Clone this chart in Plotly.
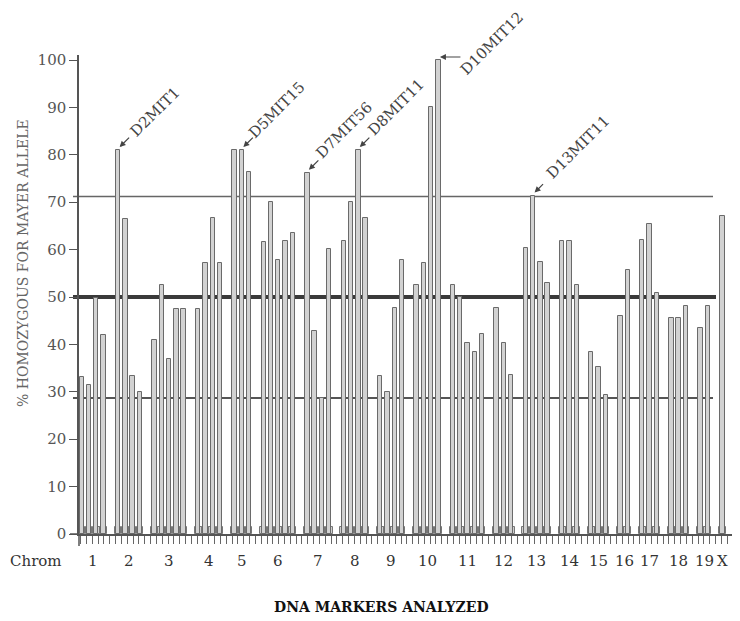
import plotly.graph_objects as go

# ---------------- data ----------------
chrom_names = ["1", "2", "3", "4", "5", "6", "7", "8", "9", "10",
               "11", "12", "13", "14", "15", "16", "17", "18", "19", "X"]
chr1 = [33.2, 31.4, 49.7, 42.0]
chr2 = [81.0, 66.5, 33.3, 30.0]
chr3 = [40.9, 52.5, 36.9, 47.4, 47.4]
chr4 = [47.4, 57.2, 66.7, 57.1]
chr5 = [81.0, 81.0, 76.3]
chr6 = [61.7, 70.1, 57.9, 61.9, 63.4]
chr7 = [76.2, 42.9, 28.6, 60.1]
chr8 = [61.9, 70.1, 81.0, 66.7]
chr9 = [33.4, 30.0, 47.7, 57.9]
chr10 = [52.5, 57.2, 90.0, 100.0]
chr11 = [52.5, 49.9, 40.2, 38.5, 42.2]
chr12 = [47.7, 40.2, 33.5]
chr13 = [60.3, 71.4, 57.3, 53.0]
chr14 = [61.9, 61.9, 52.5]
chr15 = [38.5, 35.3, 29.3]
chr16 = [45.9, 55.7]
chr17 = [62.0, 65.4, 50.9]
chr18 = [45.5, 45.5, 48.0]
chr19 = [43.4, 48.0]
chrX = [67.1]
chrom_values = [chr1, chr2, chr3, chr4, chr5, chr6, chr7, chr8, chr9, chr10,
                chr11, chr12, chr13, chr14, chr15, chr16, chr17, chr18, chr19, chrX]

# named markers: (label, chromosome index, marker index within chromosome)
marker_labels = ["D2MIT1", "D5MIT15", "D7MIT56", "D8MIT11", "D10MIT12", "D13MIT11"]
marker_chrom = [1, 4, 6, 7, 9, 12]
marker_pos = [0, 1, 0, 2, 3, 1]

# threshold lines (% homozygous)
upper_line = 71.2
mid_line = 50.0
lower_line = 28.7

y_ticks = [0, 10, 20, 30, 40, 50, 60, 70, 80, 90, 100]

# ---------------- layout of slots ----------------
xs, ys = [], []
chrom_start = []
chrom_center = []
slot = 0
for vals in chrom_values:
    chrom_start.append(slot)
    for v in vals:
        xs.append(slot)
        ys.append(v)
        slot += 1
    chrom_center.append(chrom_start[-1] + (len(vals) - 1) / 2)
    slot += 1  # gap between chromosomes

SERIF = "DejaVu Serif"
GRAY = "#555555"

fig = go.Figure()
# small feet at the base of each bar
fig.add_trace(go.Bar(x=xs, y=[1.4] * len(xs), width=0.92,
                     marker=dict(color="#cfcfcf", line=dict(color="#777777", width=1)),
                     hoverinfo="skip", showlegend=False))
fig.add_trace(go.Bar(x=xs, y=ys, width=0.6,
                     marker=dict(color="#d2d2d2", line=dict(color="#6a6a6a", width=1)),
                     showlegend=False))

# the page body has an 8px margin: the figure is placed at (8, 8)
OFF = 8
W, H = 740 - OFF, 621 - OFF
PL, PR, PT, PB = 79, 740, 55, 534          # plot area in page pixels
L, T = PL - OFF, PT - OFF
R = 0
B = H - (PB - OFF)
pw = PR - PL
ph = PB - PT

def px_x(px):
    return (px - PL) / pw

def px_y(py):
    return (PB - py) / ph

shapes = []
for val, w, col in [(upper_line, 1.5, "#666666"), (mid_line, 4, "#3a3a3a"), (lower_line, 2, "#555555")]:
    shapes.append(dict(type="line", xref="paper", yref="y", x0=px_x(73), x1=px_x(713 if val != mid_line else 716),
                       y0=val, y1=val, line=dict(color=col, width=w), layer="below"))
# axis extensions
shapes.append(dict(type="line", xref="paper", yref="paper", x0=px_x(70), x1=0, y0=0, y1=0,
                   line=dict(color="#555555", width=1.5)))
shapes.append(dict(type="line", xref="paper", yref="paper", x0=0, x1=0, y0=px_y(546), y1=0,
                   line=dict(color="#555555", width=1.5)))

annotations = []
# chromosome labels
for name, c in zip(chrom_names, chrom_center):
    annotations.append(dict(x=c, y=px_y(561), xref="x", yref="paper", text=name, showarrow=False,
                            font=dict(family=SERIF, size=15, color="#333333"),
                            xanchor="center", yanchor="middle"))
annotations.append(dict(x=px_x(64), y=px_y(561), xref="paper", yref="paper", text="Chrom",
                        showarrow=False, font=dict(family=SERIF, size=15, color="#333333"),
                        xanchor="right", yanchor="middle"))
annotations.append(dict(x=px_x(381), y=px_y(607), xref="paper", yref="paper",
                        text="<b>DNA MARKERS ANALYZED</b>", showarrow=False,
                        font=dict(family=SERIF, size=14, color="#111111"),
                        xanchor="center", yanchor="middle"))
annotations.append(dict(x=px_x(23), y=px_y(263), xref="paper", yref="paper",
                        text="% HOMOZYGOUS FOR MAYER ALLELE", textangle=-90, showarrow=False,
                        font=dict(family=SERIF, size=14, color="#666666"),
                        xanchor="center", yanchor="middle"))

# marker callouts
text_shift = {"D2MIT1": (37, 38), "D5MIT15": (35, 40), "D7MIT56": (37, 43),
              "D8MIT11": (38, 43), "D10MIT12": (54, 17), "D13MIT11": (45, 49)}
arrow_tail = {"D2MIT1": (11, -11), "D5MIT15": (11, -11), "D7MIT56": (11, -11),
              "D8MIT11": (11, -11), "D10MIT12": (22, 0), "D13MIT11": (10, -10)}
for lab, ci, mi in zip(marker_labels, marker_chrom, marker_pos):
    bx = chrom_start[ci] + mi
    by = chrom_values[ci][mi]
    ax, ay = arrow_tail[lab]
    annotations.append(dict(x=bx, y=by, xref="x", yref="y", text="", showarrow=True,
                            ax=ax, ay=ay, xshift=1.5, yshift=3, arrowhead=2, arrowsize=1,
                            arrowwidth=1.2, arrowcolor="#444444"))
    dx, dy = text_shift[lab]
    annotations.append(dict(x=bx, y=by, xref="x", yref="y", text=lab, showarrow=False,
                            xshift=dx, yshift=dy, textangle=-45,
                            font=dict(family=SERIF, size=15, color="#444444"),
                            xanchor="center", yanchor="middle"))

slot_px = 7.28
first_slot_px = 81.7
x0_val = (PL - first_slot_px) / slot_px
x1_val = (PR - first_slot_px) / slot_px

fig.update_layout(
    width=W, height=H,
    margin=dict(l=L, r=R, t=T, b=B, autoexpand=False),
    paper_bgcolor="white", plot_bgcolor="white",
    bargap=0, barmode="overlay",
    shapes=shapes, annotations=annotations,
    xaxis=dict(range=[x0_val, x1_val], showgrid=False, zeroline=False,
               showline=True, linecolor="#555555", linewidth=1.5,
               ticks="outside", tick0=-0.14, dtick=0.8, ticklen=8, tickwidth=1.2,
               tickcolor="#666666", showticklabels=False, fixedrange=True),
    yaxis=dict(range=[0, ph / 4.74], showgrid=False, zeroline=False,
               showline=True, linecolor="#555555", linewidth=1.5,
               tickmode="array", tickvals=y_ticks, ticktext=[str(t) for t in y_ticks],
               ticks="outside", ticklen=8, tickwidth=1.2, tickcolor="#555555",
               tickfont=dict(family=SERIF, size=15, color=GRAY), fixedrange=True),
    showlegend=False,
)

fig.write_html("out.html")
